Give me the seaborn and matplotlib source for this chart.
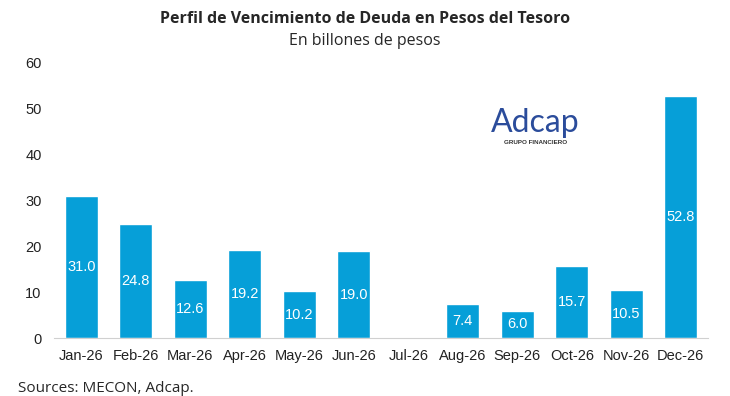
import numpy as np
import pandas as pd
import matplotlib.pyplot as plt
import seaborn as sns

# data
months = ["Jan-26", "Feb-26", "Mar-26", "Apr-26", "May-26", "Jun-26",
          "Jul-26", "Aug-26", "Sep-26", "Oct-26", "Nov-26", "Dec-26"]
values = [31.0, 24.8, 12.6, 19.2, 10.2, 19.0, 0.0, 7.4, 6.0, 15.7, 10.5, 52.8]

df = pd.DataFrame({"Mes": months, "Monto": values})

sns.set_style("white")
plt.rcParams["font.family"] = ["Liberation Sans", "DejaVu Sans"]

fig = plt.figure(figsize=(7.3, 3.96), dpi=100)
ax = fig.add_axes([0.074, 0.146, 0.896, 0.695])

sns.barplot(data=df, x="Mes", y="Monto", color="#069FD8", width=0.6,
            saturation=1, ax=ax)

for i, v in enumerate(values):
    if v > 0:
        ax.text(i, v / 2, f"{v:.1f}", ha="center", va="center",
                color="white", fontsize=10.5)

ax.set_ylim(0, 60)
ax.set_xlim(-0.5, len(months) - 0.5)
ax.set_yticks(range(0, 61, 10))
ax.set_xlabel("")
ax.set_ylabel("")
ax.tick_params(axis="both", which="major", length=0, labelsize=10.5, colors="#222222")
ax.tick_params(axis="x", pad=8)
ax.tick_params(axis="y", pad=9)
ax.set_xticks(np.arange(-0.5, len(months), 1), minor=True)
ax.tick_params(axis="x", which="minor", length=6, color="#d0d0d0", width=0.8)
for s in ["top", "right", "left"]:
    ax.spines[s].set_visible(False)
ax.spines["bottom"].set_color("#d0d0d0")
ax.spines["bottom"].set_linewidth(0.8)

fig.text(0.5, 0.953, "Perfil de Vencimiento de Deuda en Pesos del Tesoro",
         ha="center", va="center", fontsize=11.5, fontweight="bold",
         family=["Open Sans", "DejaVu Sans"])
fig.text(0.5, 0.897, "En billones de pesos", ha="center", va="center",
         fontsize=11.5, family=["Open Sans", "DejaVu Sans"])
fig.text(0.025, 0.018, "Sources: MECON, Adcap.", ha="left", va="center",
         fontsize=11, family=["Open Sans", "DejaVu Sans"])

# logo
fig.text(0.733, 0.69, "Adcap", ha="center", va="center", fontsize=23,
         color="#2B4C9B", family=["Lato", "DejaVu Sans"])
fig.text(0.733, 0.64, "GRUPO FINANCIERO", ha="center", va="center",
         fontsize=4.5, color="#333333", fontweight="bold")

fig.savefig("out.png", dpi=100)
